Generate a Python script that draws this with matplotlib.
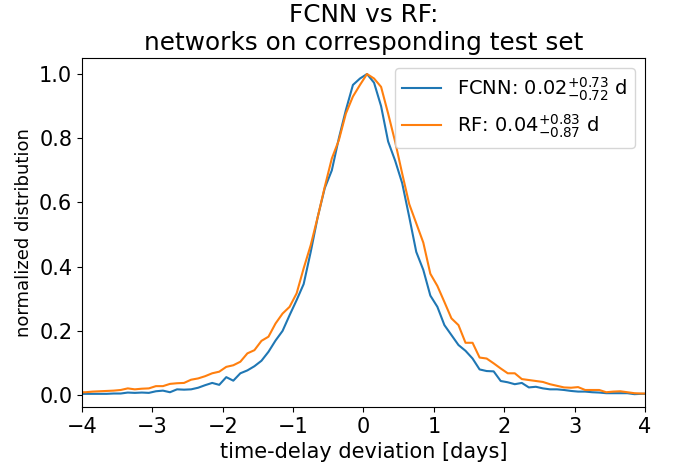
import matplotlib
matplotlib.use("Agg")
import matplotlib.pyplot as plt
import numpy as np

# bin centres of the time-delay deviation histogram [days]
bin_centers = np.round(np.arange(-4.05, 4.1, 0.1), 2)

# normalized distribution, FCNN
fcnn = [0.004,
        0.004, 0.004, 0.004, 0.004, 0.005, 0.005, 0.008, 0.007, 0.008, 0.007,
        0.012, 0.014, 0.009, 0.018, 0.017, 0.018, 0.023, 0.031, 0.038, 0.032,
        0.056, 0.045, 0.068, 0.077, 0.090, 0.107, 0.135, 0.170, 0.200, 0.249,
        0.296, 0.346, 0.446, 0.555, 0.645, 0.700, 0.800, 0.888, 0.966, 0.986,
        1.000, 0.973, 0.900, 0.790, 0.730, 0.660, 0.555, 0.446, 0.390, 0.310,
        0.275, 0.218, 0.187, 0.156, 0.138, 0.114, 0.080, 0.075, 0.074, 0.044,
        0.040, 0.034, 0.038, 0.024, 0.026, 0.021, 0.018, 0.018, 0.016, 0.013,
        0.011, 0.011, 0.009, 0.008, 0.006, 0.006, 0.006, 0.006, 0.003, 0.004,
        0.004]

# normalized distribution, RF
rf = [0.009,
      0.009, 0.011, 0.012, 0.013, 0.014, 0.016, 0.021, 0.018, 0.020, 0.021,
      0.028, 0.028, 0.035, 0.037, 0.038, 0.048, 0.052, 0.059, 0.068, 0.073,
      0.088, 0.093, 0.104, 0.130, 0.140, 0.169, 0.182, 0.223, 0.254, 0.275,
      0.317, 0.395, 0.467, 0.555, 0.649, 0.737, 0.794, 0.877, 0.930, 0.966,
      1.000, 0.986, 0.960, 0.877, 0.789, 0.690, 0.595, 0.535, 0.475, 0.378,
      0.340, 0.290, 0.239, 0.218, 0.163, 0.163, 0.117, 0.114, 0.099, 0.083,
      0.068, 0.068, 0.050, 0.047, 0.044, 0.041, 0.034, 0.029, 0.024, 0.023,
      0.025, 0.016, 0.016, 0.016, 0.009, 0.011, 0.012, 0.009, 0.006, 0.005,
      0.005]

labels = [r'FCNN: $0.02^{+0.73}_{-0.72}$ d', r'RF: $0.04^{+0.83}_{-0.87}$ d']

fig = plt.figure(figsize=(6.75, 4.72), dpi=100)
ax = fig.add_axes([0.1215, 0.1377, 0.834, 0.7395])

ax.plot(bin_centers, fcnn, color='tab:blue', label=labels[0])
ax.plot(bin_centers, rf, color='tab:orange', label=labels[1])

ax.set_xlim(-4, 4)
ax.set_ylim(-0.037, 1.05)
ax.set_xticks(np.arange(-4, 5, 1))
ax.set_yticks(np.arange(0, 1.01, 0.2))
ax.tick_params(labelsize=15)

ax.set_xlabel('time-delay deviation [days]', fontsize=15)
ax.set_ylabel('normalized distribution', fontsize=13)
ax.set_title('FCNN vs RF:\nnetworks on corresponding test set', fontsize=17.8)
ax.legend(loc='upper right', fontsize=14)

plt.savefig('out.png', dpi=100)
